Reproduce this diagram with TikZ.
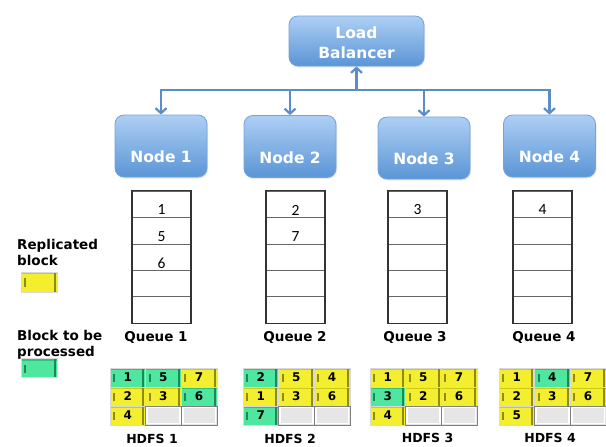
\documentclass[tikz,border=0pt]{standalone}
\usepackage{fontspec}
\setmainfont{DejaVu Sans}
\newfontfamily\qfont{Carlito}
\usetikzlibrary{arrows.meta,shadows}
\definecolor{nodetop}{HTML}{AECFF5}
\definecolor{nodebot}{HTML}{5A95D5}
\definecolor{nodeedge}{HTML}{73A3DA}
\definecolor{arrcol}{HTML}{5B8DC9}
\definecolor{ycol}{HTML}{F4EF2E}
\definecolor{ytop}{HTML}{CFC91C}
\definecolor{ydark}{HTML}{8F8B12}
\definecolor{gcol}{HTML}{4FE6A0}
\definecolor{gtop}{HTML}{2FC27C}
\definecolor{gdark}{HTML}{1A8A55}
\definecolor{ecol}{HTML}{E6E6E6}
\definecolor{qline}{HTML}{333333}
\newcommand\hgrid[3]{%
  \foreach \c/\r/\s/\t in {#3} {%
    \node[\s] (#1-\c\r) at ({#2+35.6*(\c-0.5)}, {368+19*(\r-0.5)}) {\t};
  }%
}
\begin{document}
\begin{tikzpicture}[x=1pt,y=-1pt,
  box/.style={draw=nodeedge, line width=0.8pt, rounded corners=9pt,
    top color=nodetop, bottom color=nodebot,
    drop shadow={opacity=0.18, shadow xshift=1pt, shadow yshift=-1.5pt}},
  boxtext/.style={text=white, font=\bfseries\fontsize{15.5}{20}\selectfont, align=center, inner sep=0pt},
  arr/.style={draw=arrcol, line width=2.6pt, -{Straight Barb[length=5pt,width=11pt,line width=2.2pt]}},
  qcell/.style={draw=qline!75, line width=0.6pt, minimum width=58pt, minimum height=26.4pt, inner sep=0pt},
  qouter/.style={draw=qline, line width=1.5pt},
  qnum/.style={font=\qfont\fontsize{15.5}{16}\selectfont, inner sep=0pt},
  lbl/.style={font=\bfseries\fontsize{13.5}{16}\selectfont, inner sep=0pt},
  hlbl/.style={font=\bfseries\fontsize{12.5}{14}\selectfont, inner sep=0pt},
  cellbase/.style={minimum width=35.6pt, minimum height=19pt, inner sep=0pt,
    draw=white!70!gray, line width=0.5pt, font=\bfseries\fontsize{12}{13}\selectfont, text=black},
  ycell/.style={cellbase, fill=ycol, path picture={
    \fill[ytop] (path picture bounding box.north west) rectangle ([yshift=-2.4pt]path picture bounding box.north east);
    \fill[ydark] ([xshift=-3.2pt]path picture bounding box.north east) rectangle ([xshift=-1.2pt]path picture bounding box.south east);
    \fill[ydark] ([xshift=3pt,yshift=-6pt]path picture bounding box.north west) rectangle ([xshift=5pt,yshift=5pt]path picture bounding box.south west);
  }},
  gcell/.style={cellbase, fill=gcol, path picture={
    \fill[gtop] (path picture bounding box.north west) rectangle ([yshift=-2.4pt]path picture bounding box.north east);
    \fill[gdark] ([xshift=-3.2pt]path picture bounding box.north east) rectangle ([xshift=-1.2pt]path picture bounding box.south east);
    \fill[gdark] ([xshift=3pt,yshift=-6pt]path picture bounding box.north west) rectangle ([xshift=5pt,yshift=5pt]path picture bounding box.south west);
  }},
  ecell/.style={cellbase, fill=ecol, draw=gray, path picture={
    \draw[white, line width=1.6pt] ([xshift=1.5pt,yshift=-1.5pt]path picture bounding box.north west) rectangle ([xshift=-1.5pt,yshift=1.5pt]path picture bounding box.south east);
  }}
]
\useasboundingbox[fill=white] (0,0) rectangle (606,447);

% load balancer and nodes
\node[box, minimum width=135pt, minimum height=50pt] (lb) at (356.5,41) {};
\node[boxtext] (lbt) at (356.5,43) {Load\\Balancer};

\node[box, minimum width=92pt, minimum height=62pt] (n1) at (161,146) {};
\node[box, minimum width=92pt, minimum height=62pt] (n2) at (290,146.5) {};
\node[box, minimum width=92pt, minimum height=62pt] (n3) at (424,148) {};
\node[box, minimum width=92pt, minimum height=62pt] (n4) at (549.5,146) {};
\node[boxtext] (n1t) at (161,157) {Node 1};
\node[boxtext] (n2t) at (290,157.5) {Node 2};
\node[boxtext] (n3t) at (424,159) {Node 3};
\node[boxtext] (n4t) at (549.5,157) {Node 4};

% connectors
\coordinate (j) at (356.5,90);
\draw[arr] (j) -- (lb.south);
\draw[arr] (j) -| (n1.north);
\draw[arr] (j) -| (n2.north);
\draw[arr] (j) -| (n3.north);
\draw[arr] (j) -| (n4.north);

% queues
\foreach \q/\qx in {1/161.5,2/295.5,3/417.5,4/542.5} {
  \foreach \k in {1,...,5} {
    \node[qcell] (q\q c\k) at (\qx, {191+26.4*(\k-0.5)}) {};
  }
  \draw[qouter] (q\q c1.north west) rectangle (q\q c5.south east);
}
\node[qnum] (q1n1) at (161.5,210) {1};
\node[qnum] (q1n2) at (161.5,237) {5};
\node[qnum] (q1n3) at (161.5,263) {6};
\node[qnum] (q2n1) at (295.5,210) {2};
\node[qnum] (q2n2) at (295.5,237) {7};
\node[qnum] (q3n1) at (417.5,210) {3};
\node[qnum] (q4n1) at (542.5,210) {4};

\node[lbl] (ql1) at (156,337) {Queue 1};
\node[lbl] (ql2) at (295,337) {Queue 2};
\node[lbl] (ql3) at (415,337) {Queue 3};
\node[lbl] (ql4) at (544,337) {Queue 4};

% legend
\node[lbl, align=left, anchor=west] (leg1) at (17,252) {Replicated\\block};
\node[ycell, minimum width=36pt, minimum height=20pt] (legy) at (39,282) {};
\node[lbl, align=left, anchor=west] (leg2) at (17,345) {Block to be\\processed};
\node[gcell, minimum width=36pt, minimum height=19pt] (legg) at (39,368) {};

% HDFS grids
\hgrid{h1}{110}{1/1/gcell/1,2/1/gcell/5,3/1/ycell/7,1/2/ycell/2,2/2/ycell/3,3/2/gcell/6,1/3/ycell/4,2/3/ecell/,3/3/ecell/}
\hgrid{h2}{243}{1/1/gcell/2,2/1/ycell/5,3/1/ycell/4,1/2/ycell/1,2/2/ycell/3,3/2/ycell/6,1/3/gcell/7,2/3/ecell/,3/3/ecell/}
\hgrid{h3}{370}{1/1/ycell/1,2/1/ycell/5,3/1/ycell/7,1/2/gcell/3,2/2/ycell/2,3/2/ycell/6,1/3/ycell/4,2/3/ecell/,3/3/ecell/}
\hgrid{h4}{499}{1/1/ycell/1,2/1/gcell/4,3/1/ycell/7,1/2/ycell/2,2/2/ycell/3,3/2/ycell/6,1/3/ycell/5,2/3/ecell/,3/3/ecell/}

\node[hlbl] (hl1) at (152,439) {HDFS 1};
\node[hlbl] (hl2) at (290,439) {HDFS 2};
\node[hlbl] (hl3) at (427.5,437.5) {HDFS 3};
\node[hlbl] (hl4) at (550,437.5) {HDFS 4};
\end{tikzpicture}
\end{document}
